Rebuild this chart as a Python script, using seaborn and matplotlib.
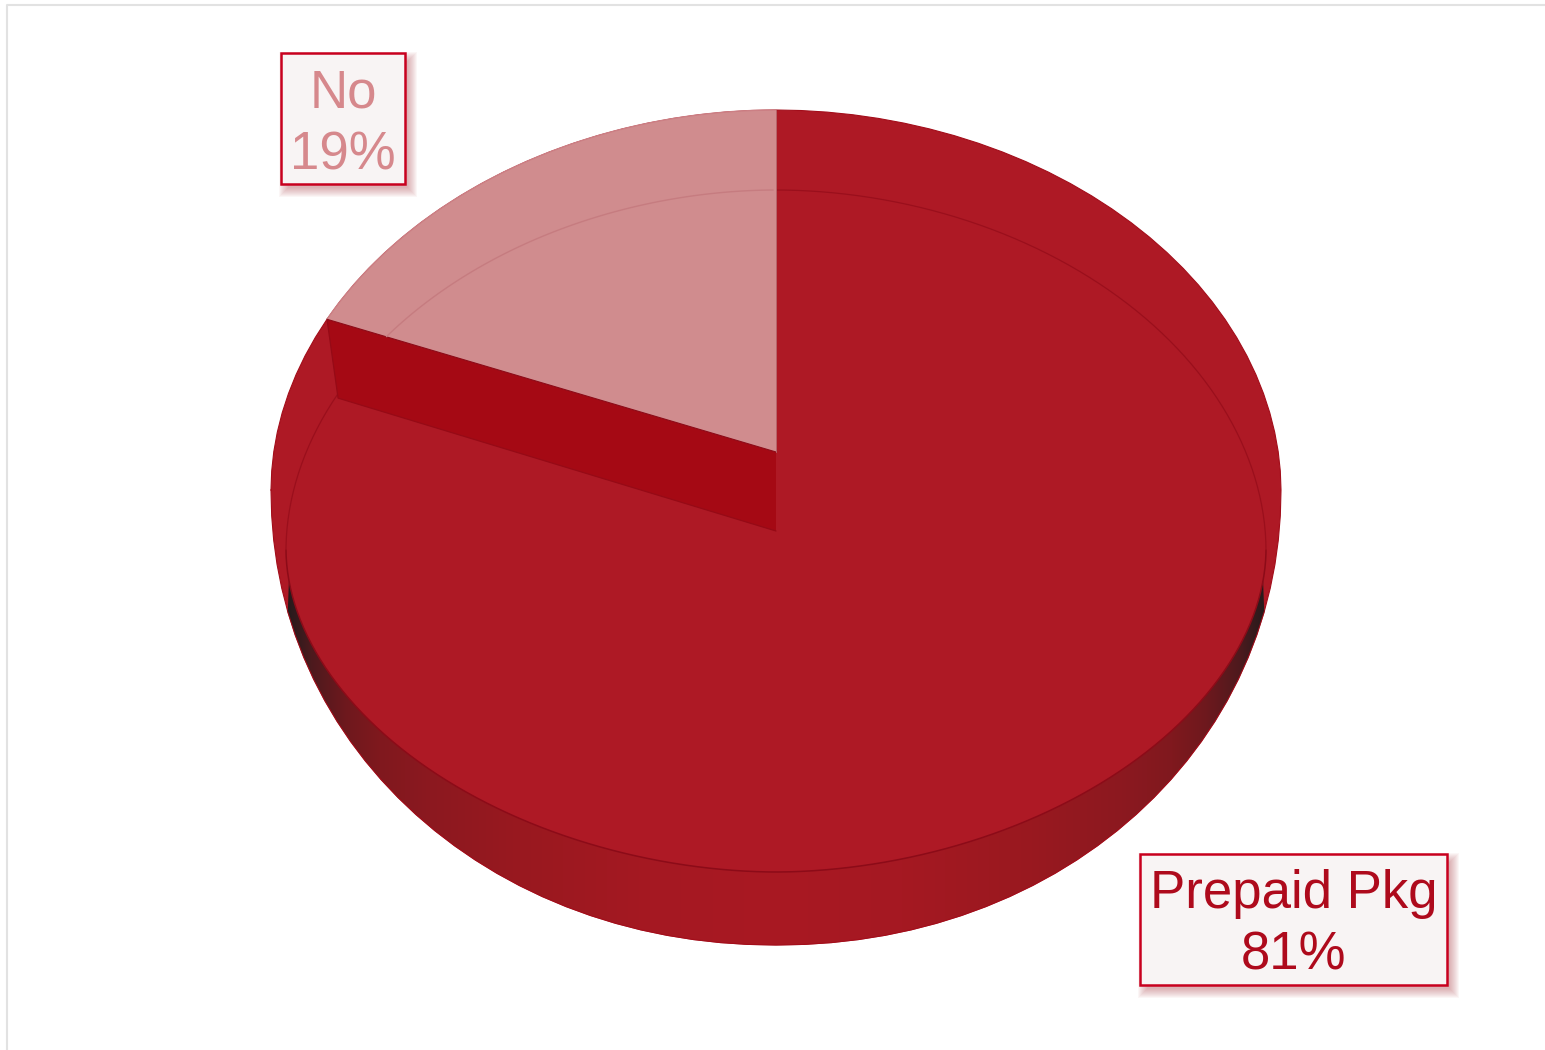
import numpy as np
import matplotlib
matplotlib.use("Agg")
import matplotlib.pyplot as plt
from matplotlib.patches import Polygon, Rectangle
import seaborn as sns

# Shares of the pie, clockwise from twelve o'clock
categories = ["No", "Prepaid Pkg"]
shares = [19, 81]

sns.set_theme(style="white")
plt.rcParams["font.family"] = ["Liberation Sans", "DejaVu Sans"]

FACE = "#ae1925"
SLAB = "#a50914"
PALE = "#d08c8e"
BORDER = "#c8001e"
LABEL_COLORS = {"No": "#d6888c", "Prepaid Pkg": "#ae0a1c"}

fig = plt.figure(figsize=(15.45, 10.5), dpi=100, facecolor="white")
ax = fig.add_axes([0, 0, 1, 1])
ax.set_xlim(0, 1545)
ax.set_ylim(1050, 0)
ax.axis("off")

# Thin frame along the top and left of the plot area
ax.plot([7, 7, 1545], [1050, 5, 5], color="#e2e2e2", lw=1.5, zorder=1)


def superellipse(cx, cy, rx, ry, p, t0, t1, n=240):
    """Arc of a rounded curve between two angles, in screen coordinates."""
    t = np.linspace(t0, t1, n)
    c, s = np.cos(t), np.sin(t)
    x = cx + rx * np.sign(c) * np.abs(c) ** (2 / p)
    y = cy - ry * np.sign(s) * np.abs(s) ** (2 / p)
    return np.column_stack([x, y])


CX = 776
RIM_RX = 505
FACE_RX = 490
TIP_TOP = np.array([CX, 452.0])
TIP_LOW = np.array([CX, 531.0])

# The outline is a faceted polygon, as 3D pies are usually tessellated
rim_top = superellipse(CX, 490, RIM_RX, 380, 1.97, 0, np.pi, n=61)
rim_low = superellipse(CX, 490, RIM_RX, 455, 2.05, np.pi, 2 * np.pi, n=61)
rim = np.vstack([rim_top, rim_low])
face_top = superellipse(CX, 550, FACE_RX, 360, 1.95, 0, np.pi)
face_low = superellipse(CX, 550, FACE_RX, 322, 1.9, np.pi, 2 * np.pi)
face = np.vstack([face_top, face_low])

# Full body of the pie with a thin darker outline
ax.add_patch(Polygon(rim, closed=True, fc=FACE, ec="#a30d1a", lw=0.8, joinstyle="round", zorder=2))

# Side wall: darkens toward both ends of the visible band
stops = [0.0, 0.25, 0.507, 0.685, 0.784, 0.853, 0.92, 0.962, 1.0]
stop_colors = ["#a91823", "#a51822", "#99181f", "#8c1820", "#80181e",
               "#6e181d", "#4d1a1e", "#2a1a1c", "#1e1a1a"]
xs = np.linspace(CX - RIM_RX, CX + RIM_RX, 1010)
d = np.abs(xs - CX) / RIM_RX
rgb = np.array(sns.color_palette(stop_colors))
ramp = np.stack([np.interp(d, stops, rgb[:, i]) for i in range(3)], axis=1)[None, :, :]
wall_edge = rim_low[rim_low[:, 1] >= 602]
wall_clip = Polygon(
    np.vstack([[CX - 487, 578], wall_edge, [CX + 487, 578]]),
    closed=True, transform=ax.transData, fc="none", ec="none",
)
ax.add_patch(wall_clip)
wall = ax.imshow(ramp, extent=(CX - RIM_RX, CX + RIM_RX, 950, 570), aspect="auto", zorder=3)
wall.set_clip_path(wall_clip)
ax.set_xlim(0, 1545)
ax.set_ylim(1050, 0)
ax.plot(wall_edge[:, 0], wall_edge[:, 1], color="#a30d1a", lw=0.8, alpha=0.75, zorder=3.2)

# Top face
ax.add_patch(Polygon(face, closed=True, fc=FACE, ec="none", zorder=4))
ax.plot(face_low[:, 0], face_low[:, 1], color="#8c0b18", lw=1.1, zorder=4.1)
ax.plot(face_top[:, 0], face_top[:, 1], color="#9a0f1c", lw=0.9, zorder=4.1)

# Cut-out slice: its angle comes from the share
theta = 2 * np.pi * shares[0] / sum(shares)
rim_x = CX - 483 * np.sin(theta)
fine_rim = superellipse(CX, 490, RIM_RX, 380, 1.97, np.pi / 2, np.pi, n=600)
arc = fine_rim[fine_rim[:, 0] >= rim_x]
rim_pt = arc[-1]
corner = TIP_LOW + np.array([-471 * np.sin(theta), -361 * np.cos(theta)])

ax.add_patch(Polygon([TIP_TOP, rim_pt, corner, TIP_LOW], closed=True,
                     fc=SLAB, ec="none", zorder=5))
ax.plot([rim_pt[0], corner[0], TIP_LOW[0]], [rim_pt[1], corner[1], TIP_LOW[1]],
        color="#960a16", lw=0.9, zorder=5.1)
ax.add_patch(Polygon(np.vstack([[TIP_TOP], arc]), closed=True, fc=PALE, ec="none", zorder=6))
ax.plot(arc[:, 0], arc[:, 1], color="#cc7f84", lw=1.0, zorder=6.1)
ax.plot([TIP_TOP[0], rim_pt[0]], [TIP_TOP[1], rim_pt[1]], color="#8c0b18", lw=0.8, zorder=6.1)
ax.plot([CX, CX], [arc[0, 1], TIP_TOP[1]], color="#b8666c", lw=0.7, zorder=6.1)

# Part of the face outline that shows through the pale slice
slope = (TIP_TOP[1] - rim_pt[1]) / (TIP_TOP[0] - rim_pt[0])
line_y = TIP_TOP[1] - (CX - face_top[:, 0]) * slope
through = face_top[(face_top[:, 0] <= CX) & (face_top[:, 1] < line_y)]
ax.plot(through[:, 0], through[:, 1], color="#c67c80", lw=1.0, zorder=6.2)


def label_box(name, share, x0, y0, x1, y1):
    """Boxed two-line label with a soft drop shadow."""
    color = LABEL_COLORS[name]
    for grow in np.linspace(7, -2, 10):
        ax.add_patch(Rectangle((x0 + 5 - grow, y0 + 6 - grow), x1 - x0 + 2 * grow, y1 - y0 + 2 * grow,
                               fc="#a8323c", ec="none", alpha=0.045, zorder=8))
    ax.add_patch(Rectangle((x0, y0), x1 - x0, y1 - y0, fc="#f8f4f4", ec=BORDER, lw=1.8, zorder=9))
    xc = (x0 + x1) / 2
    ax.text(xc, y0 + 54, name, color=color, fontsize=38, ha="center", va="baseline", zorder=10)
    ax.text(xc, y0 + 116, f"{share}%", color=color, fontsize=38, ha="center", va="baseline", zorder=10)


label_box(categories[0], shares[0], 281, 53, 405, 184)
label_box(categories[1], shares[1], 1140, 854, 1447, 985)

fig.savefig("out.png", dpi=100)
